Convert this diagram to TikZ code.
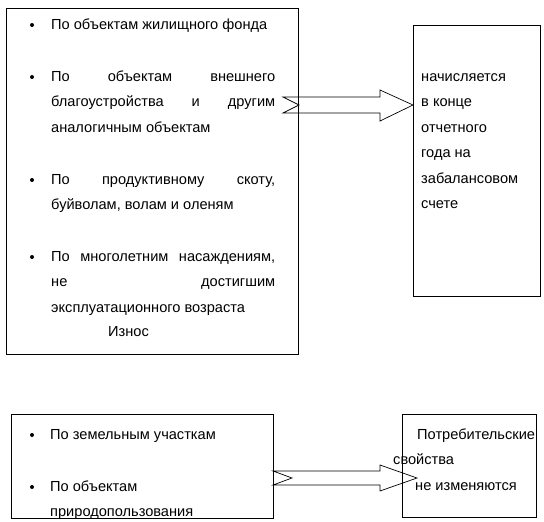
\documentclass[tikz,border=0pt]{standalone}
\usepackage{fontspec}
\setmainfont{Liberation Sans}
\usetikzlibrary{positioning}
\newcommand{\jline}[1]{\makebox[224pt][s]{#1}}
\newcommand{\lines}[1]{\begin{minipage}[t]{240pt}\fontsize{14.6}{25.6}\selectfont #1\end{minipage}}

\begin{document}
\begin{tikzpicture}[x=1pt, y=-1pt,
  frame/.style={draw, line width=0.9pt, inner sep=0pt, anchor=north west},
  txt/.style={inner sep=0pt, anchor=base west},
  dot/.style={circle, fill, inner sep=0pt, minimum size=4pt},
  blockarrow/.style={draw, line width=0.7pt, line join=miter}]
\useasboundingbox (0,0) rectangle (544,522);
% upper part
\node[frame, minimum width=292pt, minimum height=346pt] (wear) at (6,8) {};
\node[frame, minimum width=127pt, minimum height=271pt] (offbal) at (413,25) {};
\node[dot] (b1) at (32,25) {};
\node[txt] (t1) at (51,29) {\lines{По объектам жилищного фонда}};
\node[dot] (b2) at (32,77) {};
\node[txt] (t2) at (51,81) {\lines{\jline{По объектам внешнего}\\
  \jline{благоустройства и другим}\\ аналогичным объектам}};
\node[dot] (b3) at (32,180) {};
\node[txt] (t3) at (51,184) {\lines{\jline{По продуктивному скоту,}\\ буйволам, волам и оленям}};
\node[dot] (b4) at (32,257) {};
\node[txt] (t4) at (51,261) {\lines{\jline{По многолетним насаждениям,}\\
  \jline{не достигшим}\\ эксплуатационного возраста}};
\node[txt] (iznos) at (108,336) {\lines{Износ}};
\node[txt] (accr) at (421,81) {\lines{начисляется\\ в конце\\ отчетного\\ года на\\ забалансовом\\ счете}};
\draw[blockarrow] (283,97) -- (380,97) -- (380,90) -- (413,105) -- (380,121)
  -- (380,113) -- (283,113) -- (299,105) -- cycle;
% lower part
\node[frame, minimum width=262pt, minimum height=104pt] (land) at (11,414) {};
\node[frame, minimum width=134pt, minimum height=103pt] (props) at (402,414) {};
\node[dot] (b5) at (32,435) {};
\node[txt] (t5) at (50,439) {\lines{По земельным участкам}};
\node[dot] (b6) at (32,487) {};
\node[txt] (t6) at (50,491) {\lines{По объектам\\ природопользования}};
\node[txt] (same) at (393,439) {\lines{\hspace*{24pt}Потребительские\\ свойства\\ \hspace*{22pt}не изменяются}};
\draw[blockarrow] (273,471) -- (380,471) -- (380,465) -- (417,478) -- (380,491)
  -- (380,485) -- (273,485) -- (292,478) -- cycle;
\end{tikzpicture}
\end{document}
